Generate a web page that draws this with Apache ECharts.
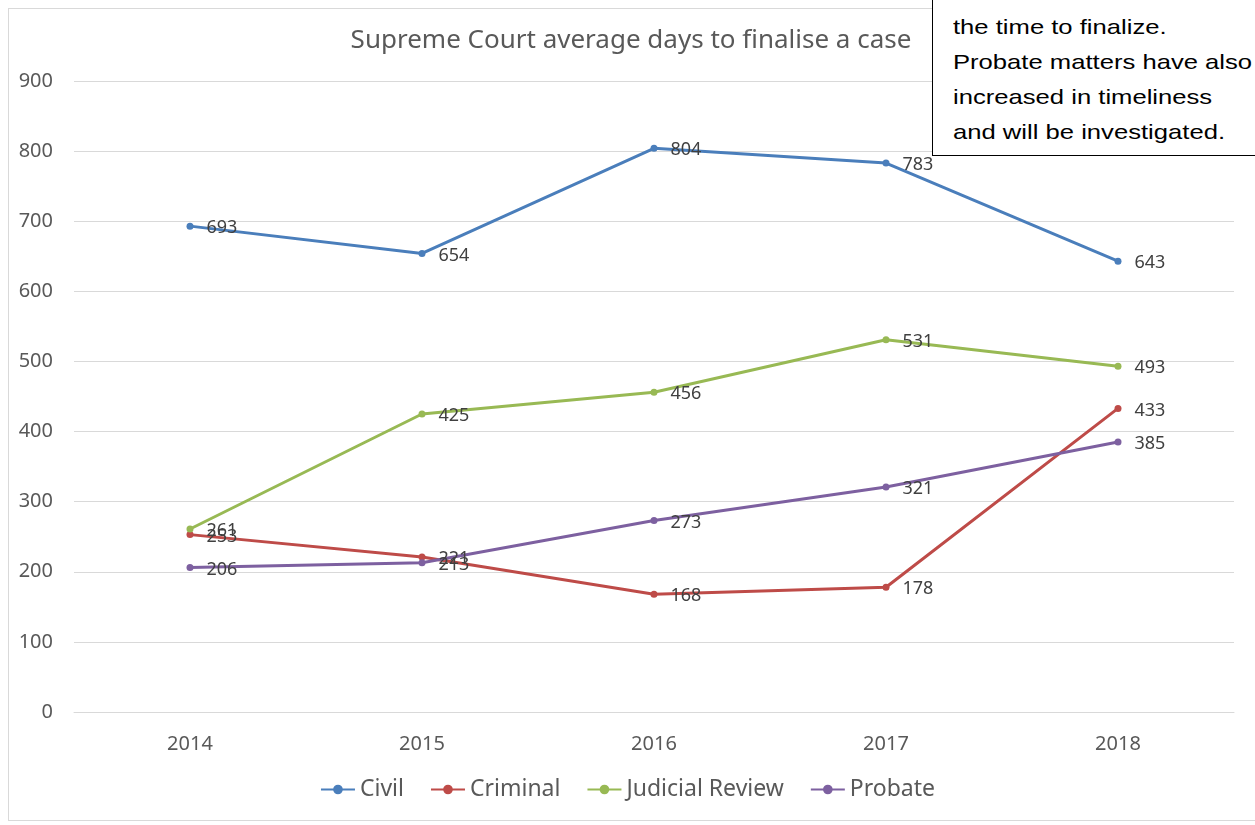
<!DOCTYPE html>
<html>
<head>
<meta charset="utf-8">
<script src="https://cdn.jsdelivr.net/npm/echarts@6/dist/echarts.min.js"></script>
<style>
body{ margin:0; background:#fff; overflow:hidden; }
.frame{ position:absolute; left:8px; top:8px; width:1260px; height:813px; border:1px solid #d9d9d9; box-sizing:border-box; }
#chart{ position:absolute; left:0; top:0; width:1255px; height:825px; }
.note{ position:absolute; left:932px; top:-30px; width:340px; height:186px; border:1px solid #000; background:#fff; box-sizing:border-box; overflow:hidden; }
.note div{ font-family:"Liberation Sans", Arial, sans-serif; font-size:21px; line-height:35px; color:#000; padding:3px 0 0 20px;
  transform:scaleX(1.22); transform-origin:20px 0; white-space:nowrap; }
</style>
</head>
<body>
<div class="frame"></div>
<div id="chart"></div>
<div class="note"><div>matters have increased<br>the time to finalize.<br>Probate matters have also<br>increased in timeliness<br>and will be investigated.</div></div>
<script>
// values
var years = ['2014','2015','2016','2017','2018'];
var civil = [693, 654, 804, 783, 643];
var criminal = [253, 221, 168, 178, 433];
var judicialReview = [261, 425, 456, 531, 493];
var probate = [206, 213, 273, 321, 385];

var seriesNames = ['Civil','Criminal','Judicial Review','Probate'];
var seriesData = [civil, criminal, judicialReview, probate];
var colors = ['#4a7ebb','#be4b48','#98b954','#7d60a0'];

var chart = echarts.init(document.getElementById('chart'));
var font = '"Noto Sans", sans-serif';

chart.setOption({
    color: colors,
    title: {
        text: 'Supreme Court average days to finalise a case',
        left: 626, top: 23, textAlign: 'center',
        textStyle: { fontFamily: font, fontSize: 26, fontWeight: 'normal', color: '#595959' }
    },
    legend: {
        bottom: 19, left: 'center', itemGap: 26, itemWidth: 34, itemHeight: 12,
        textStyle: { fontFamily: font, fontSize: 23, color: '#595959' },
        data: seriesNames
    },
    grid: { left: 74, right: 21, top: 81, bottom: 113 },
    xAxis: {
        type: 'category', data: years, boundaryGap: true,
        axisLine: { lineStyle: { color: '#d9d9d9' } },
        axisTick: { show: false },
        axisLabel: { fontFamily: font, fontSize: 20, color: '#595959', margin: 22 }
    },
    yAxis: {
        type: 'value', min: 0, max: 900, interval: 100,
        axisLine: { show: false }, axisTick: { show: false },
        axisLabel: { fontFamily: font, fontSize: 20, color: '#595959', margin: 21 },
        splitLine: { lineStyle: { color: '#d9d9d9' } }
    },
    series: seriesNames.map(function (name, i) {
        return {
            name: name, type: 'line', data: seriesData[i],
            symbol: 'circle', symbolSize: 7,
            lineStyle: { width: 3 },
            label: { show: true, position: 'right', distance: 13, fontFamily: font, fontSize: 18, color: '#404040', offset: [0, 2] },
            animation: false
        };
    })
});
</script>
</body>
</html>
